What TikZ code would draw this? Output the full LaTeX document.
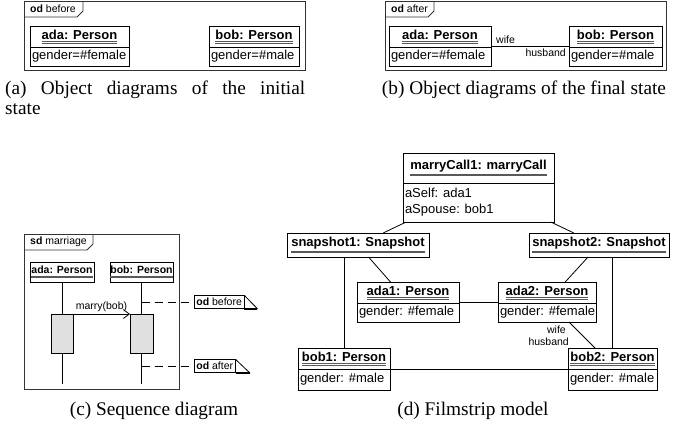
\documentclass[tikz,border=0pt]{standalone}
\usepackage{fontspec}
\setmainfont{Liberation Serif}
\setsansfont{Liberation Sans}
\usetikzlibrary{fit,calc,arrows.meta}

\newcommand\uname[1]{\setbox0=\hbox{\bfseries#1}\vtop{\offinterlineskip\copy0\kern2.2pt\hbox{\color{black!65}\rule{\wd0}{0.6pt}}\kern0.6pt\hbox{\color{black!65}\rule{\wd0}{0.6pt}}}}

\tikzset{
 frm/.style={draw=black!80, line width=0.75pt},
 objbox/.style={draw, line width=0.95pt, inner sep=0pt, outer sep=0pt},
 objline/.style={line width=0.95pt},
 lbl/.style={font=\sffamily\fontsize{13}{16}\selectfont, inner sep=0pt, outer sep=0pt},
 sml/.style={font=\sffamily\fontsize{10.5}{12}\selectfont, inner sep=0pt},
 captxt/.style={font=\fontsize{19.3}{22}\selectfont, inner sep=0pt},
 conn/.style={line width=0.8pt},
 act/.style={draw, line width=0.9pt, fill=black!12, inner sep=0pt, outer sep=0pt},
 notebox/.style={sml, draw, line width=0.8pt, inner xsep=2pt, inner ysep=0pt, minimum height=12.5pt, anchor=west},
}

\newcommand\umlobj[8]{%
 \node[objbox, fit={(#2,#3) (#4,#5)}] (#1) {};
 \draw[objline] (#2,#6) -- (#4,#6);
 \node[lbl] (#1-t) at ({(#2+#4)/2},{(#3+#6)/2}) {\uname{#7}};
 \node[lbl, anchor=west] (#1-a) at ({#2+2},{(#6+#5)/2}) {#8};
}
\newcommand\umlsnap[6]{%
 \node[objbox, fit={(#2,#3) (#4,#5)}] (#1) {};
 \node[lbl] (#1-t) at ({(#2+#4)/2},{(#3+#5)/2}) {\uname{#6}};
}

\begin{document}
\begin{tikzpicture}[x=1pt,y=-1pt]
\useasboundingbox (0,0) rectangle (674,424);

% ---------- (a) ----------
\draw[frm] (24,1) rectangle (305,70);
\node[sml, anchor=west] (tagA) at (30,9) {\textbf{od} before};
\draw[frm] (24,17) -- (77,17) -- (83,11) -- (83,1);
\umlobj{adaA}{30}{26}{129}{66}{47}{ada: Person}{gender=\#female}
\umlobj{bobA}{209}{26}{299}{66}{47}{bob: Person}{gender=\#male}
\node[captxt, anchor=base west] (capA1) at (5,94) {\makebox[300pt][s]{(a) Object diagrams of the initial}};
\node[captxt, anchor=base west] (capA2) at (5,114) {state};

% ---------- (b) ----------
\draw[frm] (385,1) rectangle (666,70);
\node[sml, anchor=west] (tagB) at (391,9) {\textbf{od} after};
\draw[frm] (385,17) -- (428,17) -- (434,11) -- (434,1);
\umlobj{adaB}{389}{26}{491}{66}{47}{ada: Person}{gender=\#female}
\umlobj{bobB}{569}{26}{662}{66}{47}{bob: Person}{gender=\#male}
\draw[conn] (adaB) -- (bobB);
\node[sml, anchor=base west] (wifeB) at ($(adaB.east)+(5,-3)$) {wife};
\node[sml, anchor=base east] (husbB) at ($(bobB.west)+(-3,10)$) {husband};
\node[captxt, anchor=base] (capB) at (524,94) {(b) Object diagrams of the final state};

% ---------- (c) ----------
\draw[frm] (24,234) rectangle (179,389);
\node[sml, anchor=west] (tagC) at (30,242) {\textbf{sd} marriage};
\draw[frm] (24,250) -- (87,250) -- (93,244) -- (93,234);
\node[objbox, fit={(30,262) (94,282)}] (adaS) {};
\node[sml] (adaS-t) at (adaS) {\uname{ada: Person}};
\node[objbox, fit={(110,262) (173,282)}] (bobS) {};
\node[sml] (bobS-t) at (bobS) {\uname{bob: Person}};
\node[act, fit={(51,314) (73,353)}] (actA) {};
\node[act, fit={(130,314) (153,353)}] (actB) {};
\coordinate (endA) at (62,384);
\coordinate (endB) at (141.5,384);
\draw[conn] (adaS) -- (actA);
\draw[conn] (actA) -- (endA);
\draw[conn] (bobS) -- (actB);
\draw[conn] (actB) -- (endB);
\draw[conn, -{Straight Barb[length=6pt,width=9pt]}] (actA.north east) -- (actB.north west)
  node[midway, above=2pt, sml] (msg) {marry(bob)};
% notes
\node[notebox] (nb) at (194,302) {\textbf{od} before};
\draw[line width=0.8pt] (nb.north east) -- ($(nb.south east)+(13,0)$) -- (nb.south east);
\draw[line width=1.8pt] (nb.south east) -- ++(13,0);
\node[notebox] (na) at (194,366) {\textbf{od} after};
\draw[line width=0.8pt] (na.north east) -- ($(na.south east)+(14,0)$) -- (na.south east);
\draw[line width=1.8pt] (na.south east) -- ++(14,0);
\coordinate (dl1) at (141.5,302);
\coordinate (dl2) at (141.5,366);
\draw[conn, dash pattern=on 8pt off 5pt] (dl1) -- (nb);
\draw[conn, dash pattern=on 8pt off 5pt] (dl2) -- (na);
\node[captxt, anchor=base] (capC) at (154,415) {(c) Sequence diagram};

% ---------- (d) ----------
\umlobj{mc}{403}{153}{554}{222}{183}{marryCall1: marryCall}{\vtop{\hbox{aSelf: ada1}\hbox{aSpouse: bob1}}}
\umlsnap{s1}{287}{233}{429}{257}{snapshot1: Snapshot}
\umlsnap{s2}{529}{233}{669}{257}{snapshot2: Snapshot}
\umlobj{a1}{357}{282}{459}{322}{303}{ada1: Person}{gender: \#female}
\umlobj{a2}{498}{282}{596}{322}{303}{ada2: Person}{gender: \#female}
\umlobj{b1}{298}{348}{390}{390}{369}{bob1: Person}{gender: \#male}
\umlobj{b2}{568}{348}{657}{390}{369}{bob2: Person}{gender: \#male}
\draw[conn] (mc) -- (s1);
\draw[conn] (mc) -- (s2);
\draw[conn] (s1) -- (a1);
\draw[conn] (s2) -- (a2);
\draw[conn] (b1.north) -- (b1.north |- s1.south);
\draw[conn] (b2.north) -- (b2.north |- s2.south);
\draw[conn] (a1) -- (a2);
\draw[conn] (b1) -- (b2);
\coordinate (wf) at ($(a2.south east)+(-27,0)$);
\coordinate (hb) at ($(b2.north west)+(27,0)$);
\draw[conn] (wf) -- (hb);
\node[sml, anchor=base east] (wifeD) at ($(wf)+(-3,11)$) {wife};
\node[sml, anchor=base east] (husbD) at ($(wf)+(0,23)$) {husband};
\node[captxt, anchor=base] (capD) at (473,415) {(d) Filmstrip model};
\end{tikzpicture}
\end{document}
